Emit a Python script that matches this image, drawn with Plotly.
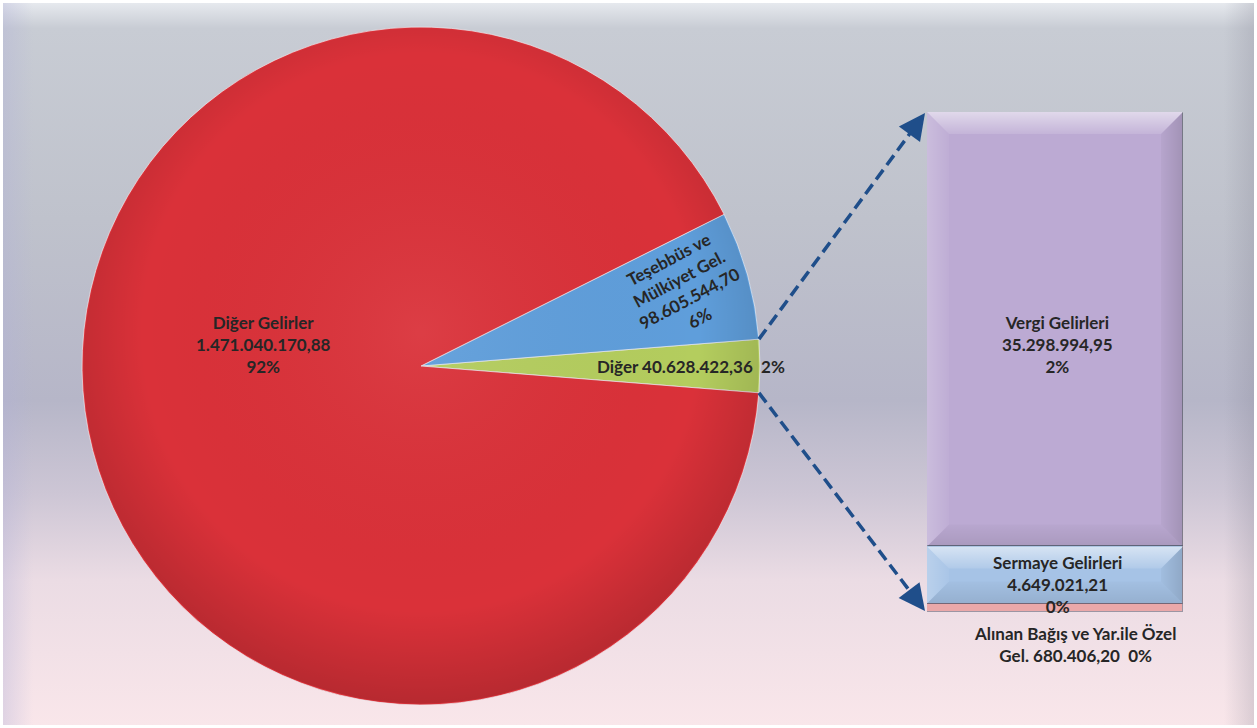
import base64
import math
import plotly.graph_objects as go

# ---------------- data ----------------
pie_labels = ["Diğer", "Teşebbüs ve<br>Mülkiyet Gel.", "Diğer Gelirler"]
pie_values = [40628422.36, 98605544.70, 1471040170.88]
pie_pct = ["2%", "6%", "92%"]
pie_colors = ["#b4cd5e", "#5f9edb", "#da3139"]

bar_labels = ["Alınan Bağış ve Yar.ile Özel<br>Gel.", "Sermaye Gelirleri", "Vergi Gelirleri"]
bar_values = [680406.20, 4649021.21, 35298994.95]
bar_pct = ["0%", "0%", "2%"]
bar_colors = ["#eaa8a9", "#a6c3e6", "#bcaad3"]

W, H = 1257, 728
FONT = "Lato"
TXT = "#262626"


def tr(v):
    s = f"{v:,.2f}"
    return s.replace(",", "X").replace(".", ",").replace("X", ".")


def px(x):
    return x / W


def py(y):
    return 1 - y / H


# pie geometry (pixels)
CX, CY, R = 421, 366, 339
# bar geometry (pixels)
BX0, BX1, BY0, BY1 = 927, 1183, 112, 612

fig = go.Figure()

bg_svg = f'''<svg xmlns="http://www.w3.org/2000/svg" width="{W}" height="{H}" viewBox="0 0 {W} {H}" preserveAspectRatio="none">
<defs>
<linearGradient id="g" x1="0" y1="0" x2="0" y2="1">
<stop offset="0" stop-color="#e6e9ee"/>
<stop offset="0.035" stop-color="#c8ccd4"/>
<stop offset="0.3" stop-color="#bfc2cc"/>
<stop offset="0.55" stop-color="#b6b6c8"/>
<stop offset="0.68" stop-color="#cdc6d5"/>
<stop offset="0.8" stop-color="#ebdce4"/>
<stop offset="1" stop-color="#f9e6ea"/>
</linearGradient>
<linearGradient id="l" x1="0" y1="0" x2="1" y2="0">
<stop offset="0" stop-color="#b0b0d8" stop-opacity="0.35"/>
<stop offset="1" stop-color="#b0b0d8" stop-opacity="0"/>
</linearGradient>
<linearGradient id="r" x1="0" y1="0" x2="1" y2="0">
<stop offset="0" stop-color="#808090" stop-opacity="0"/>
<stop offset="1" stop-color="#808090" stop-opacity="0.25"/>
</linearGradient>
</defs>
<rect width="{W}" height="{H}" fill="#ffffff"/>
<rect x="3" y="3" width="{W-6}" height="{H-6}" fill="url(#g)"/>
<rect x="3" y="3" width="30" height="{H-6}" fill="url(#l)"/>
<rect x="{W-33}" y="3" width="30" height="{H-6}" fill="url(#r)"/>
</svg>'''

pie_shade = '''<svg xmlns="http://www.w3.org/2000/svg" width="200" height="200" viewBox="0 0 200 200">
<defs>
<radialGradient id="s" cx="0.5" cy="0.45" r="0.55">
<stop offset="0" stop-color="#ffffff" stop-opacity="0.06"/>
<stop offset="0.75" stop-color="#000000" stop-opacity="0.0"/>
<stop offset="1" stop-color="#000000" stop-opacity="0.16"/>
</radialGradient>
</defs>
<circle cx="100" cy="100" r="99.6" fill="url(#s)"/>
</svg>'''


def uri(svg):
    return "data:image/svg+xml;base64," + base64.b64encode(svg.encode("utf-8")).decode()


def bevel_svg(w, h, b):
    b = min(b, h / 2.2)
    return f'''<svg xmlns="http://www.w3.org/2000/svg" width="{w:.1f}" height="{h:.1f}" viewBox="0 0 {w:.1f} {h:.1f}" preserveAspectRatio="none">
<defs>
<linearGradient id="t" x1="0" y1="0" x2="0" y2="1"><stop offset="0" stop-color="#ffffff" stop-opacity="0.55"/><stop offset="1" stop-color="#ffffff" stop-opacity="0.12"/></linearGradient>
<linearGradient id="lf" x1="0" y1="0" x2="1" y2="0"><stop offset="0" stop-color="#ffffff" stop-opacity="0.22"/><stop offset="1" stop-color="#ffffff" stop-opacity="0.04"/></linearGradient>
<linearGradient id="rt" x1="0" y1="0" x2="1" y2="0"><stop offset="0" stop-color="#000000" stop-opacity="0.03"/><stop offset="1" stop-color="#000000" stop-opacity="0.14"/></linearGradient>
<linearGradient id="bt" x1="0" y1="0" x2="0" y2="1"><stop offset="0" stop-color="#000000" stop-opacity="0.02"/><stop offset="1" stop-color="#000000" stop-opacity="0.10"/></linearGradient>
</defs>
<polygon points="0,0 {w:.1f},0 {w-b:.1f},{b:.1f} {b:.1f},{b:.1f}" fill="url(#t)"/>
<polygon points="0,0 {b:.1f},{b:.1f} {b:.1f},{h-b:.1f} 0,{h:.1f}" fill="url(#lf)"/>
<polygon points="{w:.1f},0 {w:.1f},{h:.1f} {w-b:.1f},{h-b:.1f} {w-b:.1f},{b:.1f}" fill="url(#rt)"/>
<polygon points="0,{h:.1f} {w:.1f},{h:.1f} {w-b:.1f},{h-b:.1f} {b:.1f},{h-b:.1f}" fill="url(#bt)"/>
</svg>'''


# ---------------- pie ----------------
total = sum(pie_values)
half = 360 * pie_values[0] / total / 2
fig.add_trace(go.Pie(
    labels=[l.replace("<br>", " ") for l in pie_labels],
    values=pie_values,
    sort=False,
    direction="counterclockwise",
    rotation=90 - half,
    marker=dict(colors=pie_colors, line=dict(color="rgba(235,235,240,0.7)", width=1)),
    textinfo="none",
    hoverinfo="label+value",
    domain=dict(x=[px(CX - R), px(CX + R)], y=[py(CY + R), py(CY - R)]),
    showlegend=False,
))

# ---------------- bar of pie ----------------
bar_total = sum(bar_values)
images = []
base = 0
for lab_, val, col in zip(bar_labels, bar_values, bar_colors):
    fig.add_trace(go.Bar(
        x=[0], y=[val], width=[1],
        name=lab_.replace("<br>", " "),
        marker=dict(color=col, line=dict(color="rgba(90,90,110,0.55)", width=1.2)),
        hoverinfo="name+y",
        showlegend=False,
    ))
    hpx = val / bar_total * (BY1 - BY0)
    if hpx > 20:
        images.append(dict(source=uri(bevel_svg(BX1 - BX0, hpx, 22)), xref="x", yref="y",
                           x=-0.5, y=base + val, sizex=1, sizey=val, xanchor="left",
                           yanchor="top", sizing="stretch", layer="above"))
    base += val

fig.update_layout(
    barmode="stack",
    bargap=0,
    xaxis=dict(domain=[px(BX0), px(BX1)], range=[-0.5, 0.5], visible=False, fixedrange=True),
    yaxis=dict(domain=[py(BY1), py(BY0)], range=[0, bar_total], visible=False, fixedrange=True),
)

# ---------------- labels ----------------
ann = []


def lab(text, x, y, angle=0):
    ann.append(dict(text=f"<b>{text}</b>", x=px(x), y=py(y), xref="paper", yref="paper",
                    xanchor="center", yanchor="middle",
                    showarrow=False, textangle=angle, align="center",
                    font=dict(family=FONT, size=17, color=TXT)))


lab(f"{pie_labels[2]}<br>{tr(pie_values[2])}<br>{pie_pct[2]}", 263, 344)
lab(f"{pie_labels[1]}<br>{tr(pie_values[1])}<br>{pie_pct[1]}", 684, 289, -28)
lab(f"{pie_labels[0]} {tr(pie_values[0])}\u00a0\u00a0{pie_pct[0]}", 691, 366)

lab(f"{bar_labels[2]}<br>{tr(bar_values[2])}<br>{bar_pct[2]}", 1057, 344)
lab(f"{bar_labels[1]}<br>{tr(bar_values[1])}<br>{bar_pct[1]}", 1057, 584)
lab(f"{bar_labels[0]} {tr(bar_values[0])}\u00a0\u00a0{bar_pct[0]}", 1075, 644)

# ---------------- connector arrows ----------------
ARW = "#1f4e8a"
shapes = []
a = math.radians(half)
starts = [(CX + R * math.cos(a), CY - R * math.sin(a)), (CX + R * math.cos(a), CY + R * math.sin(a))]
ends = [(BX0 - 2, BY0 + 1), (BX0 - 2, BY1 - 1)]
for (x0, y0), (x1, y1) in zip(starts, ends):
    d = math.hypot(x1 - x0, y1 - y0)
    ux, uy = (x1 - x0) / d, (y1 - y0) / d
    L = 18
    shapes.append(dict(type="line", xref="paper", yref="paper",
                       x0=px(x0), y0=py(y0), x1=px(x1 - ux * L), y1=py(y1 - uy * L),
                       line=dict(color=ARW, width=3.5, dash="12px,6px"), layer="above"))
    ann.append(dict(x=px(x1), y=py(y1), xref="paper", yref="paper", text="",
                    showarrow=True, arrowhead=2, arrowsize=1.5, arrowwidth=3.5,
                    arrowcolor=ARW, ax=-ux * 22, ay=-uy * 22, standoff=0))

images = [
    dict(source=uri(bg_svg), xref="paper", yref="paper", x=0, y=1, sizex=1, sizey=1,
         xanchor="left", yanchor="top", sizing="stretch", layer="below"),
    dict(source=uri(pie_shade), xref="paper", yref="paper",
         x=px(CX - R), y=py(CY - R), sizex=px(2 * R), sizey=2 * R / H,
         xanchor="left", yanchor="top", sizing="stretch", layer="above"),
] + images

fig.update_layout(
    width=W, height=H,
    margin=dict(l=0, r=0, t=0, b=0),
    paper_bgcolor="#ffffff",
    plot_bgcolor="rgba(0,0,0,0)",
    showlegend=False,
    annotations=ann,
    shapes=shapes,
    images=images,
)

fig.write_html("out.html", config={"displayModeBar": False},
               post_script="document.body.style.margin='0';")
